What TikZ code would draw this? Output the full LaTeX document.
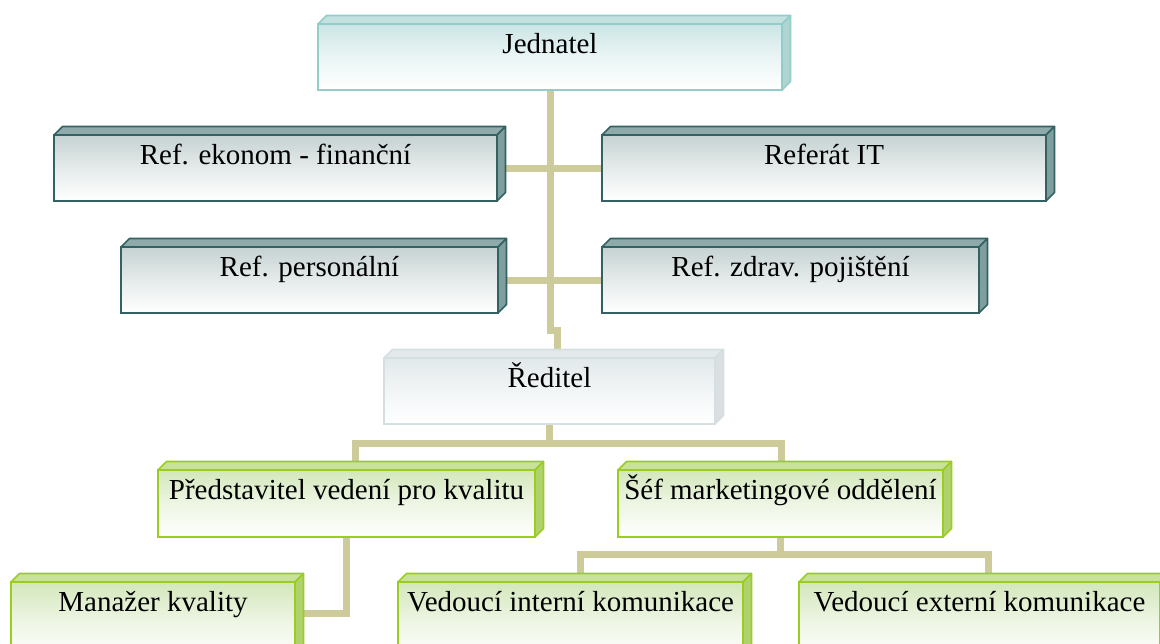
\documentclass[tikz,border=0pt]{standalone}
\usepackage{fontspec}
\setmainfont{Liberation Serif}

% palette
\definecolor{linkC}{RGB}{205,203,153}
\definecolor{tealB}{RGB}{146,205,202}
\definecolor{tealF}{RGB}{204,229,229}
\definecolor{tealT}{RGB}{196,225,224}
\definecolor{tealS}{RGB}{176,212,210}
\definecolor{slateB}{RGB}{52,98,98}
\definecolor{slateF}{RGB}{198,210,210}
\definecolor{slateT}{RGB}{143,170,170}
\definecolor{slateS}{RGB}{127,158,158}
\definecolor{grayB}{RGB}{213,222,224}
\definecolor{grayF}{RGB}{226,233,235}
\definecolor{grayT}{RGB}{227,233,234}
\definecolor{grayS}{RGB}{218,224,225}
\definecolor{greenB}{RGB}{154,205,30}
\definecolor{greenF}{RGB}{211,231,187}
\definecolor{greenT}{RGB}{200,226,156}
\definecolor{greenS}{RGB}{176,210,110}

\pgfdeclarelayer{background}
\pgfsetlayers{background,main}

\tikzset{
  unitbox/.style={rectangle, inner sep=0pt, outer sep=0pt, anchor=north west,
    line width=1.6pt, text=black, font=\fontsize{29}{34}\selectfont, text height=29pt},
  tealFront/.style={draw=tealB, top color=tealF, bottom color=white, middle color=tealF!40!white},
  tealTop/.style={draw=tealB, fill=tealT, line width=1.6pt, line join=round},
  tealSide/.style={draw=tealB, fill=tealS, line width=1.6pt, line join=round},
  slateFront/.style={draw=slateB, top color=slateF, bottom color=white, middle color=slateF!45!white},
  slateTop/.style={draw=slateB, fill=slateT, line width=1.6pt, line join=round},
  slateSide/.style={draw=slateB, fill=slateS, line width=1.6pt, line join=round},
  grayFront/.style={draw=grayB, top color=grayF, bottom color=white, middle color=grayF!45!white},
  grayTop/.style={draw=grayB, fill=grayT, line width=1.6pt, line join=round},
  graySide/.style={draw=grayB, fill=grayS, line width=1.6pt, line join=round},
  greenFront/.style={draw=greenB, top color=greenF, bottom color=white, middle color=greenF!40!white},
  greenTop/.style={draw=greenB, fill=greenT, line width=1.6pt, line join=round},
  greenSide/.style={draw=greenB, fill=greenS, line width=1.6pt, line join=round},
  link/.style={draw=linkC, line width=7pt},
}

\def\dep{8.5}
% front face given in pixels measured down from the top edge:
% #1 name, #2 colour kind, #3 left, #4 top, #5 right, #6 bottom, #7 label
\newcommand\orgbox[7]{%
  \node[unitbox, #2Front,
        minimum width={(#5-#3)*1pt}, minimum height={(#6-#4)*1pt},
        text depth={(#6-#4-29)*1pt}] (#1) at (#3,-#4) {#7};
  \filldraw[#2Top] (#1.north west) -- ++(\dep,\dep)
     -- ([shift={(\dep,\dep)}]#1.north east) -- (#1.north east) -- cycle;
  \filldraw[#2Side] (#1.north east) -- ++(\dep,\dep)
     -- ([shift={(\dep,\dep)}]#1.south east) -- (#1.south east) -- cycle;
}

\begin{document}
\begin{tikzpicture}[x=1pt, y=1pt]
\useasboundingbox (0,0) rectangle (1160,-643);
\clip (0,0) rectangle (1160,-643);

% connector bend points
\coordinate (t1) at (550,-330);
\coordinate (t2) at (557,-330);
\coordinate (h2L) at (355,-443);
\coordinate (h2R) at (781,-443);
\coordinate (m1) at (346.5,-613);
\coordinate (h3L) at (580,-554);
\coordinate (h3R) at (988,-554);

% boxes first, so the connectors can refer to them
\orgbox{jed}{teal}{318}{24}{782}{90}{Jednatel}
\orgbox{ekon}{slate}{54}{135}{497}{201}{Ref. ekonom - finanční}
\orgbox{it}{slate}{602}{135}{1046}{201}{Referát IT}
\orgbox{pers}{slate}{121}{247}{498}{313}{Ref. personální}
\orgbox{zdr}{slate}{602}{247}{979}{313}{Ref. zdrav. pojištění}
\orgbox{red}{gray}{384}{358}{715}{424}{Ředitel}
\orgbox{pr}{green}{158}{470}{535}{537}{Představitel vedení pro kvalitu}
\orgbox{sef}{green}{618}{470}{943}{537}{Šéf marketingové oddělení}
\orgbox{man}{green}{11}{582}{295}{660}{Manažer kvality}
\orgbox{vi}{green}{398}{582}{743}{660}{Vedoucí interní komunikace}
\orgbox{ve}{green}{799}{582}{1160}{660}{Vedoucí externí komunikace}

% connectors sit behind the boxes
\begin{pgfonlayer}{background}
  % upper trunk with its side branches
  \draw[link] (jed.south) -- (t1) -- (t2) -- (t2 |- red.north);
  \draw[link] (ekon.east) -- (ekon.east -| t1);
  \draw[link] (it.west) -- (it.west -| t1);
  \draw[link] (pers.east) -- (pers.east -| t1);
  \draw[link] (zdr.west) -- (zdr.west -| t1);
  % second level
  \draw[link] (red.south) -- (red.south |- h2L);
  \draw[link] (pr.north -| h2L) -- (h2L) -- (h2R) -- (sef.north -| h2R);
  \draw[link] (pr.south) -- (m1) -- (m1 -| man.east);
  % third level
  \draw[link] (sef.south) -- (sef.south |- h3L);
  \draw[link] (vi.north -| h3L) -- (h3L) -- (h3R) -- (ve.north -| h3R);
\end{pgfonlayer}
\end{tikzpicture}
\end{document}
